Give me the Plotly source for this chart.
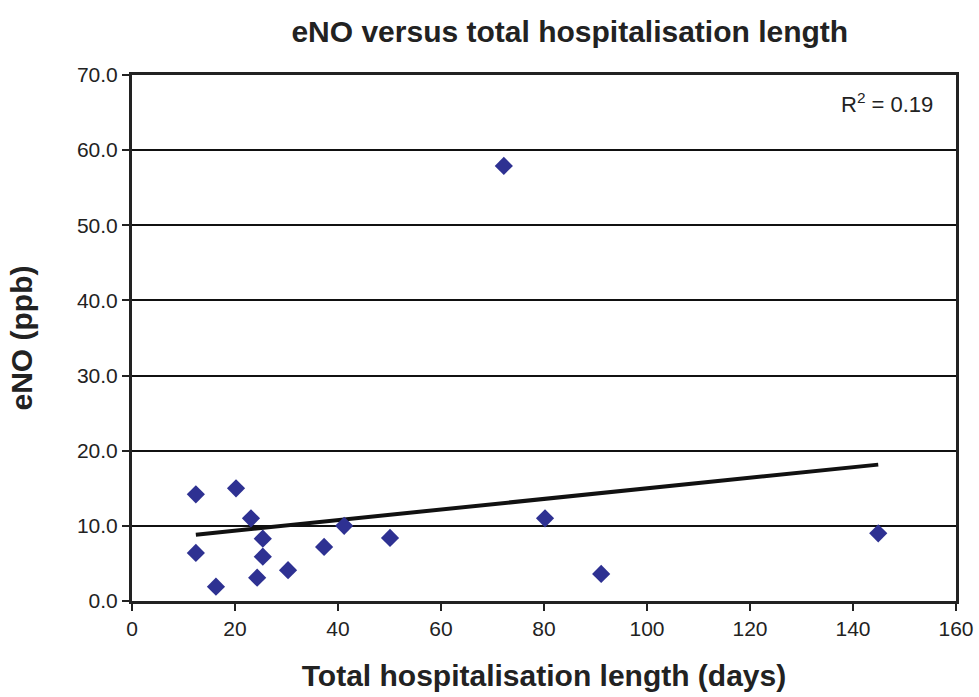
import numpy as np
import plotly.graph_objects as go

# Hospitalisation length (days) and exhaled NO (ppb) per patient
stay_days = [12.4, 12.4, 16.3, 20.2, 23.1, 25.4, 25.4, 24.3, 30.3, 37.3, 41.2, 50.1, 72.2, 80.2, 91.1, 144.9]
eno_ppb = [14.2, 6.4, 1.9, 15.0, 11.0, 8.3, 5.9, 3.1, 4.1, 7.2, 10.0, 8.4, 57.9, 11.0, 3.6, 9.0]

x_ticks = [0, 20, 40, 60, 80, 100, 120, 140, 160]
y_ticks = [0, 10, 20, 30, 40, 50, 60, 70]
r2_label = "R<sup>2</sup> = 0.19"

FONT = "Liberation Sans, Arial, Helvetica, sans-serif"
INK = "#222222"

# least-squares trend line over the observed range
slope, intercept = np.polyfit(stay_days, eno_ppb, 1)
trend_x = np.array([min(stay_days), max(stay_days)])
trend_y = slope * trend_x + intercept

fig = go.Figure()
fig.add_trace(go.Scatter(
    x=trend_x, y=trend_y, mode="lines",
    line=dict(color="#111111", width=4),
    hoverinfo="skip", showlegend=False,
))
fig.add_trace(go.Scatter(
    x=stay_days, y=eno_ppb, mode="markers",
    marker=dict(symbol="diamond", size=14, color="#2E3192"),
    showlegend=False,
))

fig.update_layout(
    width=979, height=697,
    margin=dict(l=132, r=23, t=75, b=96),
    paper_bgcolor="white", plot_bgcolor="white",
    font=dict(family=FONT, color=INK, size=21),
    title=dict(
        text="<b>eNO versus total hospitalisation length</b>",
        x=0.582, xanchor="center", y=0.955, yanchor="middle",
        font=dict(size=30, family=FONT, color=INK),
    ),
    xaxis=dict(
        range=[0, 160], tickvals=x_ticks, ticktext=[str(v) for v in x_ticks],
        showgrid=False, zeroline=False, automargin=False,
        showline=True, linecolor=INK, linewidth=3, mirror=True,
        ticks="outside", ticklen=7, tickwidth=2, tickcolor=INK,
        tickfont=dict(size=21, family=FONT),
        title=dict(text="<b>Total hospitalisation length (days)</b>",
                   font=dict(size=30, family=FONT), standoff=26),
    ),
    yaxis=dict(
        range=[0, 70], tickvals=y_ticks, ticktext=[f"{v:.1f}" for v in y_ticks],
        showgrid=True, gridcolor="#111111", gridwidth=2, zeroline=False,
        automargin=False,
        showline=True, linecolor=INK, linewidth=3, mirror=True,
        ticks="outside", ticklen=7, tickwidth=2, tickcolor=INK,
        tickfont=dict(size=21, family=FONT),
        title=dict(text="<b>eNO (ppb)</b>",
                   font=dict(size=30, family=FONT), standoff=36),
    ),
    annotations=[dict(
        text=r2_label, xref="paper", yref="paper", x=0.9745, y=0.978,
        xanchor="right", yanchor="top", showarrow=False,
        font=dict(size=22, family=FONT, color=INK),
    )],
)

fig.write_html("out.html")
